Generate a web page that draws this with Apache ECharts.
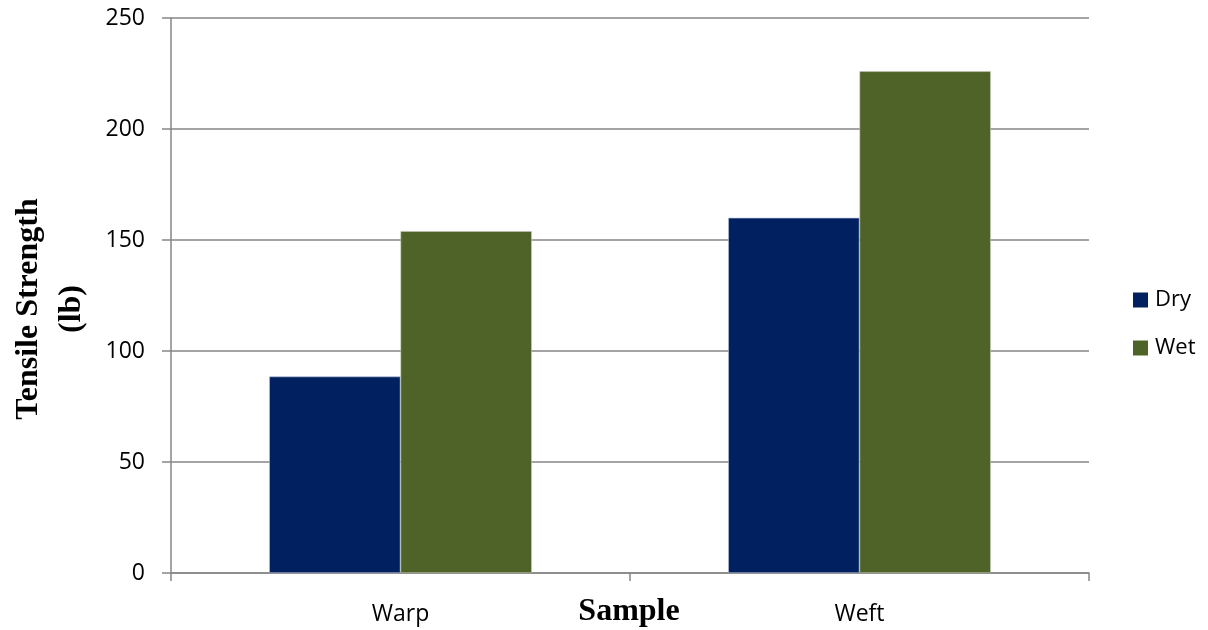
<!DOCTYPE html>
<html>
<head>
<meta charset="utf-8">
<script src="https://cdn.jsdelivr.net/npm/echarts@6/dist/echarts.min.js"></script>
<style>
  html, body { margin: 0; padding: 0; background: #fff; }
  #chart { width: 1208px; height: 630px; }
</style>
</head>
<body>
<div id="chart"></div>
<script>
// Tensile strength of fabric samples, dry vs. wet
const categories = ['Warp', 'Weft'];
const dryValues = [88.5, 160];
const wetValues = [154, 226];
const yTicks = { min: 0, max: 250, interval: 50 };

const chart = echarts.init(document.getElementById('chart'));
const axisGray = '#868686';
const labelFont = '"Open Sans", "Liberation Sans", sans-serif';
const titleFont = '"Liberation Serif", "DejaVu Serif", serif';

chart.setOption({
  animation: false,
  backgroundColor: '#ffffff',
  grid: { left: 171, right: 119, top: 18, bottom: 57, containLabel: false },
  legend: {
    orient: 'vertical',
    left: 1133,
    top: 289,
    padding: 0,
    itemWidth: 15,
    itemHeight: 15,
    itemGap: 26,
    icon: 'rect',
    itemStyle: { borderWidth: 0 },
    textStyle: { fontFamily: labelFont, fontSize: 22, color: '#000', padding: [0, 0, 0, 2] },
    data: ['Dry', 'Wet']
  },
  xAxis: {
    type: 'category',
    data: categories,
    axisLine: { lineStyle: { color: axisGray, width: 1.5 } },
    axisTick: { show: true, length: 8, alignWithLabel: false, lineStyle: { color: axisGray, width: 1.5 } },
    axisLabel: { fontFamily: labelFont, fontSize: 23, color: '#000', margin: 30 },
    splitLine: { show: false }
  },
  yAxis: {
    type: 'value',
    min: yTicks.min,
    max: yTicks.max,
    interval: yTicks.interval,
    axisLine: { show: true, lineStyle: { color: axisGray, width: 1.5 } },
    axisTick: { show: true, length: 9, lineStyle: { color: axisGray, width: 1.5 } },
    axisLabel: { fontFamily: labelFont, fontSize: 23, color: '#000', margin: 26 },
    splitLine: { show: true, lineStyle: { color: axisGray, width: 1.5 } }
  },
  series: [
    {
      name: 'Dry',
      type: 'bar',
      data: dryValues,
      barWidth: '28.6%',
      barGap: '0%',
      itemStyle: { color: '#002060', borderColor: '#b9c3d6', borderWidth: 0.6 }
    },
    {
      name: 'Wet',
      type: 'bar',
      data: wetValues,
      barWidth: '28.6%',
      barGap: '0%',
      itemStyle: { color: '#4f6228', borderColor: '#c2c9b3', borderWidth: 0.6 }
    }
  ],
  graphic: [
    {
      type: 'text',
      x: 50,
      y: 309,
      rotation: Math.PI / 2,
      style: {
        text: 'Tensile Strength\n(lb)',
        fontFamily: titleFont,
        fontWeight: 'bold',
        fontSize: 32,
        lineHeight: 43,
        fill: '#000',
        align: 'center',
        verticalAlign: 'middle'
      }
    },
    {
      type: 'text',
      x: 629,
      y: 612,
      style: {
        text: 'Sample',
        fontFamily: titleFont,
        fontWeight: 'bold',
        fontSize: 32,
        fill: '#000',
        align: 'center',
        verticalAlign: 'middle'
      }
    }
  ]
});
</script>
</body>
</html>
